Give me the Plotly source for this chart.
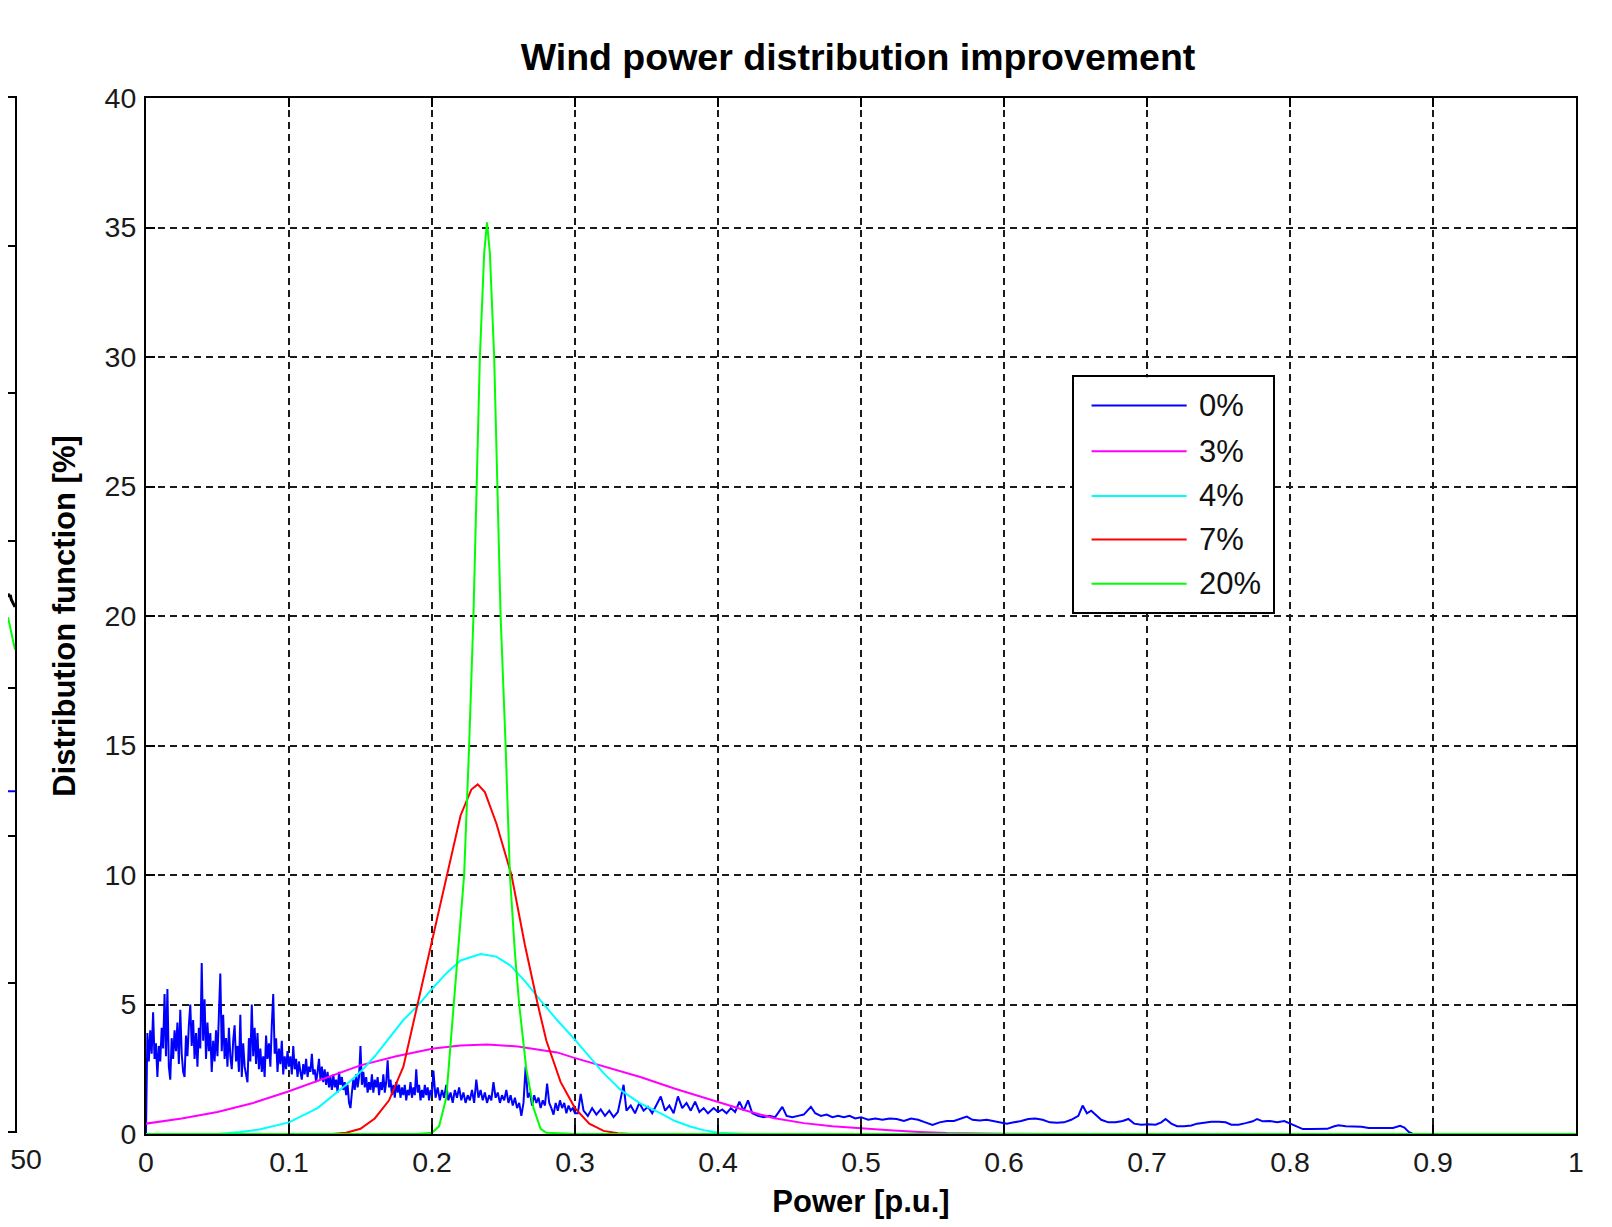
import plotly.graph_objects as go

# ---------------- data ----------------
power_tickvals = [0, 0.1, 0.2, 0.3, 0.4, 0.5, 0.6, 0.7, 0.8, 0.9, 1.0]
power_ticktext = ["0", "0.1", "0.2", "0.3", "0.4", "0.5", "0.6", "0.7", "0.8", "0.9", "1"]
dist_tickvals = [0, 5, 10, 15, 20, 25, 30, 35, 40]
dist_ticktext = ["0", "5", "10", "15", "20", "25", "30", "35", "40"]

legend_labels = ["0%", "3%", "4%", "7%", "20%"]
series_colors = ["#0000ff", "#ff00ff", "#00ffff", "#ff0000", "#00ff00"]

# 0 % improvement (noisy histogram), (power, distribution)
dist_0pct = [
    (0.000, 0.0), (0.001, 3.9), (0.002, 2.8), (0.003, 4.0), (0.004, 3.1), (0.005, 4.7), (0.006, 2.9),
    (0.007, 3.5), (0.008, 2.2), (0.009, 3.4), (0.010, 2.8), (0.011, 4.1), (0.012, 3.3), (0.013, 5.4),
    (0.014, 3.0), (0.015, 5.6), (0.016, 2.6), (0.017, 2.1), (0.018, 3.7), (0.019, 2.9), (0.020, 4.0),
    (0.021, 3.2), (0.022, 4.3), (0.023, 2.7), (0.024, 4.8), (0.025, 3.1), (0.026, 2.4), (0.027, 2.2),
    (0.028, 3.8), (0.029, 3.0), (0.030, 4.2), (0.031, 5.0), (0.032, 3.4), (0.033, 4.4), (0.034, 2.9),
    (0.035, 3.9), (0.036, 2.6), (0.037, 4.1), (0.038, 3.3), (0.039, 6.6), (0.040, 3.6), (0.041, 5.2),
    (0.042, 2.9), (0.043, 4.3), (0.044, 3.2), (0.045, 3.9), (0.046, 2.4), (0.047, 3.6), (0.048, 2.8),
    (0.049, 4.0), (0.050, 3.0), (0.051, 4.5), (0.052, 6.2), (0.053, 3.2), (0.054, 4.6), (0.055, 2.9),
    (0.056, 3.7), (0.057, 2.6), (0.058, 4.1), (0.059, 3.0), (0.060, 2.5), (0.061, 3.6), (0.062, 4.2),
    (0.063, 2.8), (0.064, 3.4), (0.065, 2.4), (0.066, 4.6), (0.067, 2.2), (0.068, 3.5), (0.069, 2.6),
    (0.070, 2.3), (0.071, 2.0), (0.072, 3.7), (0.073, 2.8), (0.074, 5.0), (0.075, 3.0), (0.076, 4.1),
    (0.077, 2.7), (0.078, 3.9), (0.079, 2.5), (0.080, 3.3), (0.081, 2.4), (0.082, 3.0), (0.083, 2.2),
    (0.084, 3.8), (0.085, 2.9), (0.086, 3.5), (0.087, 2.6), (0.088, 4.2), (0.089, 5.4), (0.090, 3.1),
    (0.091, 3.7), (0.092, 2.4), (0.093, 3.3), (0.094, 2.7), (0.095, 3.6), (0.096, 2.3), (0.097, 3.0),
    (0.098, 2.5), (0.099, 3.2), (0.100, 2.6), (0.101, 3.0), (0.102, 2.3), (0.103, 3.4), (0.104, 2.5),
    (0.105, 2.9), (0.106, 2.2), (0.107, 2.8), (0.108, 2.4), (0.109, 2.1), (0.110, 2.7), (0.111, 2.3),
    (0.112, 2.9), (0.113, 2.2), (0.114, 2.6), (0.115, 2.4), (0.116, 3.1), (0.117, 2.3), (0.118, 2.5),
    (0.119, 2.0), (0.120, 2.4),
    (0.121, 2.9), (0.122, 2.1), (0.123, 2.6), (0.124, 2.0), (0.125, 2.5), (0.126, 1.9), (0.127, 2.4),
    (0.128, 1.8), (0.129, 2.2), (0.130, 1.7), (0.131, 2.3), (0.132, 1.8), (0.133, 2.1), (0.134, 1.6),
    (0.135, 2.4), (0.136, 1.9), (0.137, 2.2), (0.138, 1.7), (0.139, 2.0), (0.140, 1.5), (0.141, 1.9),
    (0.142, 1.2), (0.143, 1.0), (0.144, 1.6), (0.145, 2.1), (0.146, 1.7), (0.147, 2.3), (0.148, 1.8),
    (0.149, 2.2), (0.150, 3.4), (0.151, 1.9), (0.152, 2.4), (0.153, 1.8), (0.154, 2.2), (0.155, 1.6),
    (0.156, 2.0), (0.157, 1.7), (0.158, 2.3), (0.159, 1.6), (0.160, 2.1), (0.161, 1.8), (0.162, 2.2),
    (0.163, 1.5), (0.164, 2.0), (0.165, 1.7), (0.166, 2.3), (0.167, 1.6), (0.168, 2.0), (0.169, 2.85),
    (0.170, 1.8), (0.171, 2.1), (0.172, 1.5), (0.173, 1.9), (0.174, 1.4), (0.175, 2.0), (0.176, 1.6),
    (0.177, 1.9), (0.178, 1.4), (0.179, 1.8), (0.180, 1.5), (0.181, 1.9), (0.182, 1.3), (0.183, 1.7),
    (0.184, 1.5), (0.185, 2.0), (0.186, 1.4), (0.187, 1.8), (0.188, 1.5), (0.189, 2.5), (0.190, 1.6),
    (0.191, 1.9), (0.192, 1.3), (0.193, 1.7), (0.194, 1.4), (0.195, 1.9), (0.196, 1.5), (0.197, 1.8),
    (0.198, 1.3), (0.199, 1.7), (0.200, 1.5), (0.201, 2.45),
    (0.2025, 1.4), (0.2040, 1.8), (0.2055, 1.3), (0.2070, 1.7), (0.2085, 1.4), (0.2100, 1.9), (0.2115, 1.3),
    (0.2130, 1.6), (0.2145, 1.2), (0.2160, 1.7), (0.2175, 1.4), (0.2190, 1.8), (0.2205, 1.3), (0.2220, 1.6),
    (0.2235, 1.2), (0.2250, 1.5), (0.2265, 1.3), (0.2280, 1.7), (0.2295, 1.2), (0.2310, 2.1), (0.2325, 1.4),
    (0.2340, 1.7), (0.2355, 1.3), (0.2370, 1.6), (0.2385, 1.2), (0.2400, 1.5), (0.2415, 1.3), (0.2430, 2.0),
    (0.2445, 1.4), (0.2460, 1.6), (0.2475, 1.2), (0.2490, 1.5), (0.2505, 1.3), (0.2520, 1.7), (0.2535, 1.2),
    (0.2550, 1.5), (0.2565, 1.1), (0.2580, 1.4), (0.2595, 1.0), (0.2610, 1.2), (0.2625, 0.7), (0.2640, 1.2),
    (0.2655, 2.6), (0.2670, 1.4), (0.2685, 1.6), (0.2700, 1.1), (0.2715, 1.5), (0.2730, 1.2), (0.2745, 1.4),
    (0.2760, 1.0), (0.2775, 1.3), (0.2790, 1.1), (0.2805, 1.95), (0.2820, 1.2), (0.2835, 1.0), (0.2850, 0.75),
    (0.2865, 1.2), (0.2880, 0.9), (0.2895, 1.3), (0.2910, 1.0), (0.2925, 1.2), (0.2940, 0.8), (0.2955, 1.1),
    (0.2970, 0.9), (0.2985, 1.0), (0.3000, 0.8),
    (0.302, 0.8), (0.304, 1.55), (0.306, 0.9), (0.309, 0.7), (0.312, 1.0), (0.315, 0.75), (0.318, 0.95),
    (0.321, 0.7), (0.324, 0.9), (0.327, 0.65), (0.330, 0.85), (0.334, 1.9), (0.336, 0.9), (0.339, 1.1),
    (0.342, 0.8), (0.345, 1.2), (0.348, 0.9), (0.351, 1.05), (0.354, 0.8), (0.357, 1.1), (0.360, 1.45),
    (0.363, 0.9), (0.366, 1.1), (0.369, 0.8), (0.372, 1.45), (0.375, 1.0), (0.378, 1.2), (0.381, 0.9),
    (0.384, 1.25), (0.387, 0.85), (0.390, 1.0), (0.393, 0.8), (0.397, 1.0), (0.400, 0.85), (0.403, 0.95),
    (0.406, 0.8), (0.409, 1.0), (0.412, 0.85), (0.415, 1.25), (0.418, 0.9), (0.421, 1.3), (0.424, 0.8),
    (0.428, 0.7), (0.432, 0.65), (0.436, 0.7), (0.440, 0.65), (0.445, 1.05), (0.448, 0.7), (0.452, 0.65),
    (0.456, 0.7), (0.460, 0.75), (0.465, 1.05), (0.468, 0.8), (0.472, 0.7), (0.476, 0.75), (0.480, 0.65),
    (0.484, 0.7), (0.488, 0.65), (0.492, 0.7), (0.496, 0.6), (0.500, 0.65),
    (0.505, 0.55), (0.510, 0.6), (0.515, 0.55), (0.520, 0.6), (0.525, 0.58), (0.530, 0.5), (0.535, 0.6),
    (0.540, 0.55), (0.545, 0.45), (0.550, 0.35), (0.555, 0.45), (0.560, 0.5), (0.565, 0.5), (0.570, 0.6),
    (0.574, 0.67), (0.578, 0.55), (0.583, 0.52), (0.588, 0.55), (0.593, 0.5), (0.598, 0.45), (0.602, 0.4),
    (0.607, 0.45), (0.612, 0.5), (0.617, 0.58), (0.622, 0.6),
    (0.627, 0.55), (0.632, 0.45), (0.637, 0.43), (0.642, 0.45), (0.647, 0.55), (0.652, 0.7), (0.655, 1.1),
    (0.658, 0.8), (0.661, 0.9), (0.664, 0.75), (0.668, 0.55), (0.673, 0.45), (0.678, 0.45), (0.683, 0.5),
    (0.687, 0.58), (0.691, 0.4), (0.696, 0.36), (0.701, 0.38), (0.706, 0.36), (0.710, 0.45), (0.713, 0.58),
    (0.717, 0.4), (0.721, 0.3), (0.726, 0.3), (0.731, 0.33), (0.735, 0.4), (0.740, 0.43), (0.745, 0.47),
    (0.750, 0.47), (0.755, 0.45), (0.759, 0.36), (0.764, 0.36), (0.769, 0.42), (0.774, 0.49), (0.777, 0.58),
    (0.781, 0.49), (0.786, 0.5), (0.791, 0.45), (0.796, 0.5), (0.800, 0.4), (0.804, 0.3), (0.809, 0.19),
    (0.815, 0.19), (0.820, 0.19), (0.826, 0.2), (0.831, 0.3), (0.834, 0.34), (0.839, 0.3), (0.845, 0.3),
    (0.850, 0.28), (0.855, 0.23), (0.861, 0.23), (0.866, 0.23), (0.872, 0.23), (0.877, 0.32), (0.880, 0.25),
    (0.883, 0.08), (0.886, 0.0), (1.000, 0.0),
]

# 3 % improvement
dist_3pct = [
    (0.0, 0.4), (0.025, 0.6), (0.05, 0.85), (0.075, 1.2), (0.099, 1.63), (0.125, 2.15), (0.15, 2.65),
    (0.175, 3.0), (0.201, 3.3), (0.22, 3.42), (0.2386, 3.46), (0.26, 3.38), (0.2875, 3.15), (0.299, 2.95),
    (0.32, 2.6), (0.3457, 2.2), (0.37, 1.75), (0.399, 1.26), (0.42, 0.9), (0.4387, 0.62), (0.46, 0.42),
    (0.48, 0.3), (0.4993, 0.22), (0.52, 0.14), (0.541, 0.08), (0.56, 0.04), (0.6, 0.01), (0.65, 0.0), (1.0, 0.0),
]

# 4 % improvement
dist_4pct = [
    (0.0, 0.0), (0.05, 0.0), (0.066, 0.08), (0.08, 0.18), (0.10, 0.45), (0.12, 1.0), (0.14, 1.9),
    (0.15, 2.4), (0.16, 3.0), (0.17, 3.7), (0.18, 4.4), (0.19, 4.95), (0.20, 5.6), (0.21, 6.2),
    (0.22, 6.7), (0.234, 6.95), (0.245, 6.85), (0.255, 6.5), (0.265, 5.9), (0.276, 5.15), (0.2875, 4.4),
    (0.299, 3.7), (0.31, 3.0), (0.32, 2.35), (0.332, 1.7), (0.345, 1.2), (0.36, 0.8), (0.37, 0.5),
    (0.381, 0.28), (0.39, 0.15), (0.40, 0.05), (0.42, 0.0), (1.0, 0.0),
]

# 7 % improvement
dist_7pct = [
    (0.0, 0.0), (0.13, 0.0), (0.14, 0.05), (0.15, 0.2), (0.16, 0.6), (0.17, 1.3), (0.18, 2.6),
    (0.19, 5.0), (0.20, 7.5), (0.2125, 10.5), (0.22, 12.3), (0.2275, 13.3), (0.232, 13.5), (0.237, 13.2),
    (0.245, 12.0), (0.2556, 10.0), (0.265, 7.3), (0.274, 5.0), (0.28, 3.6), (0.29, 2.0), (0.30, 1.0),
    (0.31, 0.4), (0.32, 0.12), (0.33, 0.03), (0.34, 0.0), (1.0, 0.0),
]

# 20 % improvement
dist_20pct = [
    (0.0, 0.0), (0.19, 0.0), (0.200, 0.05), (0.205, 0.3), (0.210, 1.4), (0.2145, 4.5), (0.219, 7.5),
    (0.2225, 10.0), (0.226, 15.0), (0.229, 20.0), (0.2335, 30.0), (0.2365, 34.0), (0.2385, 35.2),
    (0.2405, 34.0), (0.2435, 30.0), (0.248, 20.0), (0.2515, 15.0), (0.2545, 10.0), (0.258, 7.0),
    (0.261, 5.0), (0.266, 2.5), (0.271, 1.0), (0.276, 0.2), (0.28, 0.05), (0.30, 0.0), (1.0, 0.0),
]

all_series = [dist_0pct, dist_3pct, dist_4pct, dist_7pct, dist_20pct]

# neighbouring (cropped) panel at the far left
neighbor_black = [(35, 3.64), (38, 3.62), (40, 3.63), (42, 3.60), (45, 3.58), (48, 3.56), (50, 3.55)]
neighbor_green = [(35, 3.48), (50, 3.26)]
neighbor_blue = [(35, 2.30), (50, 2.30)]
neighbor_tickvals = [50]
neighbor_ticktext = ["50"]

# legend row positions (inside legend box, 0..1)
legend_rows = [0.880, 0.685, 0.495, 0.310, 0.121]

# ---------------- figure ----------------
FONT = "Liberation Sans, Arial, sans-serif"
OFF = 8                      # default page margin of the html body
W, H = 1612 - 2 * OFF, 1227 - 2 * OFF
ML, MR = 0, W - (1576.5 - OFF)
MT, MB = 97.6 - OFF, H - (1134 - OFF)
PW = W - ML - MR
PH = H - MT - MB


def px_x(p):                 # screen x -> paper fraction
    return (p - OFF) / PW


def px_y(p):                 # screen y -> paper fraction
    return (H - MB - (p - OFF)) / PH


fig = go.Figure()

for pts, color in zip(all_series, series_colors):
    fig.add_trace(go.Scatter(
        x=[p[0] for p in pts], y=[p[1] for p in pts], mode="lines",
        line=dict(color=color, width=2), xaxis="x", yaxis="y", hoverinfo="skip"))

for pts, color in [(neighbor_black, "#000000"), (neighbor_green, "#00ff00"), (neighbor_blue, "#0000ff")]:
    fig.add_trace(go.Scatter(
        x=[p[0] for p in pts], y=[p[1] for p in pts], mode="lines",
        line=dict(color=color, width=3 if color == "#000000" else 2),
        xaxis="x2", yaxis="y2", hoverinfo="skip"))

for lbl, color, ry in zip(legend_labels, series_colors, legend_rows):
    fig.add_trace(go.Scatter(
        x=[0.09, 0.568], y=[ry, ry], mode="lines",
        line=dict(color=color, width=2), xaxis="x3", yaxis="y3", hoverinfo="skip"))

annotations = []
for lbl, ry in zip(legend_labels, legend_rows):
    annotations.append(dict(
        text=lbl, x=0.618, y=ry, xref="x3", yref="y3", xanchor="left", yanchor="middle",
        showarrow=False, font=dict(family=FONT, size=31, color="#111111")))

axis_common = dict(
    showline=True, linecolor="black", linewidth=2, mirror="ticks",
    ticks="inside", ticklen=9, tickwidth=1.5, tickcolor="black",
    showgrid=True, gridcolor="#1a1a1a", gridwidth=2, griddash="7px,5px",
    zeroline=False, automargin=False,
    tickfont=dict(family=FONT, size=28.5, color="#1a1a1a"),
)

fig.update_layout(
    width=W, height=H,
    margin=dict(l=ML, r=MR, t=MT, b=MB),
    paper_bgcolor="white", plot_bgcolor="white",
    showlegend=False,
    title=dict(
        text="Wind power distribution improvement",
        font=dict(family=FONT, size=37.5, color="black", weight="bold"),
        x=(858 - OFF) / W, xref="container", xanchor="center",
        y=1 - (56.5 - OFF) / H, yref="container", yanchor="middle"),
    xaxis=dict(
        axis_common, domain=[px_x(146), 1.0], anchor="y", range=[0, 1],
        tickvals=power_tickvals, ticktext=power_ticktext, ticklabelstandoff=2,
        title=dict(text="Power [p.u.]", standoff=13,
                   font=dict(family=FONT, size=31, color="black", weight="bold"))),
    yaxis=dict(
        axis_common, domain=[0, 1], anchor="x", range=[0, 40],
        tickvals=dist_tickvals, ticktext=dist_ticktext, ticklabelstandoff=2,
        title=dict(text="Distribution function [%]", standoff=20,
                   font=dict(family=FONT, size=31, color="black", weight="bold"))),
    xaxis2=dict(
        domain=[0, px_x(15)], anchor="y2", range=[35, 50],
        showline=True, linecolor="black", linewidth=2, mirror=True,
        ticks="", tickvals=neighbor_tickvals, ticktext=neighbor_ticktext,
        tickfont=dict(family=FONT, size=28.5, color="#1a1a1a"), ticklabelstandoff=2,
        ticklabelshift=11, ticklabeloverflow="allow",
        showgrid=False, zeroline=False, automargin=False),
    yaxis2=dict(
        domain=[px_y(1130.5), px_y(97.6)], anchor="x2", side="right", range=[0, 7],
        tickvals=[0, 1, 2, 3, 4, 5, 6, 7], showticklabels=False,
        ticks="inside", ticklen=9, tickwidth=1.5, tickcolor="black",
        showline=True, linecolor="black", linewidth=2,
        showgrid=False, zeroline=False, automargin=False),
    xaxis3=dict(
        domain=[px_x(1074), px_x(1273)], anchor="y3", range=[0, 1],
        showline=True, linecolor="black", linewidth=2, mirror=True,
        ticks="", showticklabels=False, showgrid=False, zeroline=False, automargin=False),
    yaxis3=dict(
        domain=[px_y(612), px_y(377)], anchor="x3", range=[0, 1],
        showline=True, linecolor="black", linewidth=2, mirror=True,
        ticks="", showticklabels=False, showgrid=False, zeroline=False, automargin=False),
    shapes=[dict(type="rect", xref="x3 domain", yref="y3 domain", x0=0, x1=1, y0=0, y1=1,
                 fillcolor="white", line=dict(width=0), layer="below")],
    annotations=annotations,
)

fig.write_html("out.html")
